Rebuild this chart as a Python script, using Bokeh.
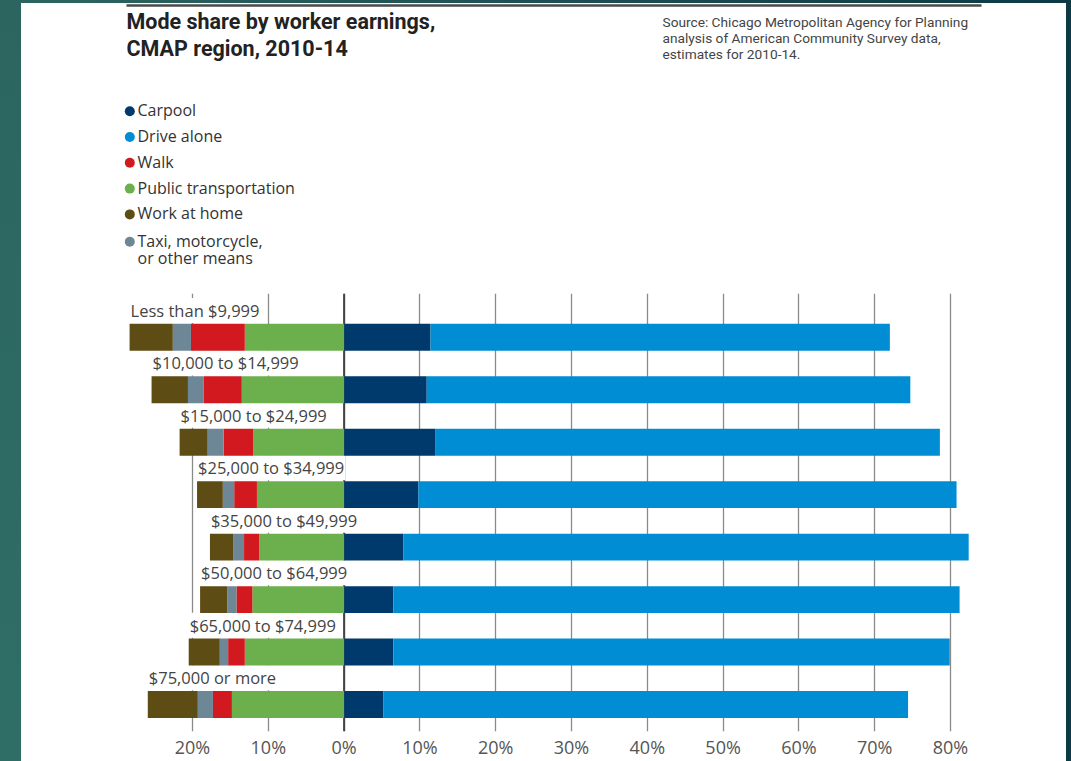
import numpy as np
from bokeh.plotting import figure
from bokeh.models import Range1d, FixedTicker, Div
from bokeh.layouts import row, column
from bokeh.core.properties import value
from bokeh.embed import file_html
from bokeh.resources import INLINE

# ---------------- data ----------------
categories = ["Less than $9,999", "$10,000 to $14,999", "$15,000 to $24,999",
              "$25,000 to $34,999", "$35,000 to $49,999", "$50,000 to $64,999",
              "$65,000 to $74,999", "$75,000 or more"]
carpool = [11.4, 10.9, 12.0, 9.8, 7.8, 6.5, 6.5, 5.2]
drive_alone = [60.6, 63.8, 66.6, 71.0, 74.6, 74.7, 73.4, 69.2]
public_transportation = [13.1, 13.5, 12.0, 11.5, 11.2, 12.1, 13.1, 14.8]
walk = [7.1, 5.0, 3.9, 3.0, 2.0, 2.1, 2.2, 2.5]
taxi_other = [2.4, 2.1, 2.1, 1.5, 1.4, 1.2, 1.1, 2.0]
work_at_home = [5.7, 4.8, 3.7, 3.4, 3.1, 3.6, 4.1, 6.6]

tick_values = [-20, -10, 0, 10, 20, 30, 40, 50, 60, 70, 80]
tick_labels = ["20%", "10%", "0%", "10%", "20%", "30%", "40%", "50%", "60%", "70%", "80%"]

legend_labels = ["Carpool", "Drive alone", "Walk", "Public transportation",
                 "Work at home", "Taxi, motorcycle,\nor other means"]
title_text = "Mode share by worker earnings,\nCMAP region, 2010-14"
source_text = ("Source: Chicago Metropolitan Agency for Planning\n"
               "analysis of American Community Survey data,\n"
               "estimates for 2010-14.")

# ---------------- styles ----------------
C_CARPOOL = "#00396b"
C_DRIVE = "#008dd3"
C_WALK = "#d2191f"
C_PT = "#6cb04d"
C_HOME = "#5e4c15"
C_TAXI = "#6e8796"
legend_colors = [C_CARPOOL, C_DRIVE, C_WALK, C_PT, C_HOME, C_TAXI]

PANEL_W = 1045
LEFT_STRIP = 21
RIGHT_STRIP = 1071 - LEFT_STRIP - PANEL_W
TOP_STRIP = 3
TOP_H = 290
BOT_H = 761 - TOP_STRIP - TOP_H
PX_PER_PCT = 7.58
ZERO_PX = 343.6 - LEFT_STRIP

LABEL_FONT = value("Open Sans")

# ---------------- top figure (title, source, legend) ----------------
top = figure(width=PANEL_W, height=TOP_H, output_backend="svg", toolbar_location=None,
             x_axis_location=None, y_axis_location=None,
             x_range=Range1d(LEFT_STRIP, LEFT_STRIP + PANEL_W),
             y_range=Range1d(TOP_STRIP + TOP_H, TOP_STRIP),
             min_border=0, outline_line_color=None)
top.grid.visible = False
top.background_fill_color = "white"
top.border_fill_color = "white"

top.segment(x0=[126], y0=[5], x1=[981], y1=[5], line_color="#4a4a4a", line_width=2.5)
top.text(x=[126], y=[8], text=[title_text], text_font=value("Roboto"),
         text_font_style="bold", text_font_size="21.5px", text_color="#222222",
         text_baseline="top", text_align="left", text_line_height=1.08)
top.text(x=[662], y=[13], text=[source_text], text_font=value("Roboto"),
         text_font_size="13.7px", text_color="#444444",
         text_baseline="top", text_align="left", text_line_height=1.03)

leg_y = np.array([110.7 + i * 25.8 for i in range(len(legend_labels))])
leg_y[-1] += 1.5
top.scatter(x=[129.3] * len(legend_labels), y=leg_y, size=10,
            fill_color=legend_colors, line_color=None)
top.text(x=[137] * len(legend_labels), y=leg_y - 12, text=legend_labels,
         text_font=LABEL_FONT, text_font_size="16px", text_color="#333333",
         text_baseline="top", text_align="left", text_line_height=0.78)

# ---------------- bottom figure (bars) ----------------
x_start = -ZERO_PX / PX_PER_PCT
x_end = (PANEL_W - ZERO_PX) / PX_PER_PCT
frame_top = TOP_STRIP + TOP_H
frame_bottom = 733
bot = figure(width=PANEL_W, height=BOT_H, output_backend="svg", toolbar_location=None,
             y_axis_location=None,
             x_range=Range1d(x_start, x_end),
             y_range=Range1d(frame_bottom, frame_top),
             min_border_left=0, min_border_right=0, min_border_top=0,
             min_border_bottom=761 - frame_bottom, outline_line_color=None)
bot.background_fill_color = "white"
bot.border_fill_color = "white"
bot.ygrid.visible = False
bot.xgrid.ticker = FixedTicker(ticks=tick_values)
bot.xgrid.grid_line_color = "#8a8a8a"
bot.xgrid.grid_line_width = 1.3

bot.xaxis.ticker = FixedTicker(ticks=tick_values)
bot.xaxis.major_label_overrides = {v: l for v, l in zip(tick_values, tick_labels)}
bot.xaxis.axis_line_color = None
bot.xaxis.major_tick_line_color = None
bot.xaxis.minor_tick_line_color = None
bot.xaxis.major_label_text_font = "Open Sans"
bot.xaxis.major_label_text_font_size = "18px"
bot.xaxis.major_label_text_color = "#555555"
bot.xaxis.major_label_standoff = -3

n = len(categories)
ys = np.array([337 + i * 52.7 for i in range(n)])
BAR_H = 27

cp = np.array(carpool)
da = np.array(drive_alone)
pt = np.array(public_transportation)
wk = np.array(walk)
tx = np.array(taxi_other)
wh = np.array(work_at_home)
left_ends = -(pt + wk + tx + wh)

# zero line
bot.segment(x0=[0], y0=[frame_top], x1=[0], y1=[frame_bottom], line_color="#444444", line_width=2)

# category labels (white boxes hide the grid behind them; bars drawn afterwards)
bot.text(x=left_ends, y=ys - BAR_H / 2 - 13.5, text=categories,
         text_font=LABEL_FONT, text_font_size="16.5px", text_color="#444444",
         text_baseline="alphabetic", text_align="left",
         background_fill_color="white", padding=1)

bot.hbar(y=ys, left=0, right=cp, height=BAR_H, fill_color=C_CARPOOL, line_color=None)
bot.hbar(y=ys, left=cp, right=cp + da, height=BAR_H, fill_color=C_DRIVE, line_color=None)
bot.hbar(y=ys, left=-pt, right=0, height=BAR_H, fill_color=C_PT, line_color=None)
bot.hbar(y=ys, left=-(pt + wk), right=-pt, height=BAR_H, fill_color=C_WALK, line_color=None)
bot.hbar(y=ys, left=-(pt + wk + tx), right=-(pt + wk), height=BAR_H, fill_color=C_TAXI, line_color=None)
bot.hbar(y=ys, left=left_ends, right=-(pt + wk + tx), height=BAR_H, fill_color=C_HOME, line_color=None)

# ---------------- page layout ----------------
left_div = Div(text="", width=LEFT_STRIP, height=761, margin=0,
               styles={"background": "linear-gradient(to bottom, #2c6560, #2f6e67)"})
right_div = Div(text="", width=RIGHT_STRIP, height=761, margin=0,
                styles={"background": "#0d3a45"})
top_div = Div(text="", width=PANEL_W, height=TOP_STRIP, margin=0,
              styles={"background": "linear-gradient(to right, #2c6560, #0d3a45)"})

layout = row(left_div, column(top_div, top, bot, spacing=0, margin=0), right_div,
             spacing=0, margin=0)

open("out.html", "w").write(file_html(layout, INLINE))
